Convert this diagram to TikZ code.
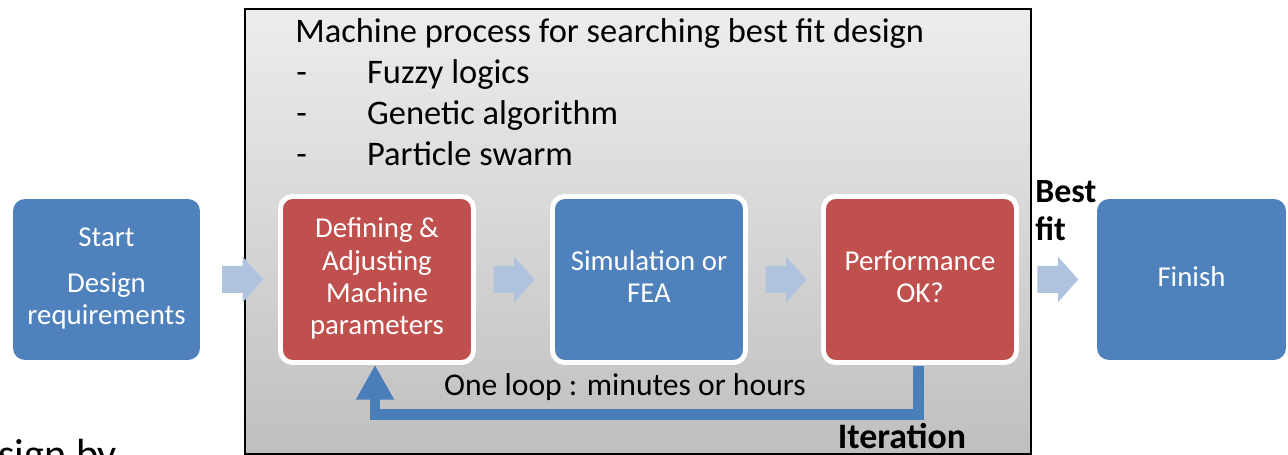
\documentclass[tikz,border=0pt]{standalone}
\usepackage{fontspec}
\setmainfont{Carlito}
\usetikzlibrary{arrows.meta,calc}
\definecolor{boxblue}{HTML}{4F81BD}
\definecolor{boxred}{HTML}{C0504D}
\definecolor{arrowfill}{HTML}{AFC3DF}
\definecolor{loopblue}{HTML}{4A7EBB}
\definecolor{paneltop}{HTML}{EDEDED}
\definecolor{panelbottom}{HTML}{BFBFBF}

\begin{document}
\begin{tikzpicture}[x=0.02cm,y=-0.02cm,
  boxtext/.style={text=white, align=center, text depth=3.5pt,
    font=\fontsize{16.4pt}{18.4pt}\selectfont},
  endbox/.style={boxtext, fill=boxblue, rounded corners=0.24cm,
    minimum width=3.74cm, minimum height=3.22cm, inner sep=0pt},
  stagebox/.style={boxtext, fill=#1, draw=white, line width=2.8pt, rounded corners=0.24cm,
    minimum width=3.86cm, minimum height=3.32cm, inner sep=0pt},
  panel/.style={draw=black, line width=1.1pt, top color=paneltop, bottom color=panelbottom,
    minimum width=15.72cm, minimum height=8.9cm, inner sep=0pt},
  listtext/.style={font=\fontsize{19.6pt}{23pt}\selectfont, inner sep=0pt, anchor=base west},
  boldtext/.style={font=\bfseries\fontsize{#1}{21.5pt}\selectfont, inner sep=0pt},
  loopline/.style={draw=loopblue, line width=6.2pt, line join=miter,
    -{Triangle[width=20.4pt,length=19.8pt]}},
  pics/blockarrow/.style={code={
    \fill[arrowfill] (-20.5,-13.5) -- (0,-13.5) -- (0,-23) -- (20.5,0)
      -- (0,23) -- (0,13.5) -- (-20.5,13.5) -- cycle;}}
]
\useasboundingbox (0,0) rectangle (1288,455);
\clip (0,0) rectangle (1288,455);

% grey panel holding the optimisation loop
\node[panel, anchor=north west] (panel) at (244,8) {};

% heading and list of search methods
\node[listtext] (title) at (295,43) {Machine process for searching best fit design};
\node[listtext] (fuzzy) at (296,84) {\makebox[40.3pt][l]{-}Fuzzy logics};
\node[listtext] (genetic) at (296,125) {\makebox[40.3pt][l]{-}Genetic algorithm};
\node[listtext] (swarm) at (296,166) {\makebox[40.3pt][l]{-}Particle swarm};

% process stages
\node[endbox] (start) at (106.5,279.5) {Start\\[7.7pt]Design\\requirements};
\node[stagebox=boxred] (def) at (377,279.5) {Defining \&\\Adjusting\\Machine\\parameters};
\node[stagebox=boxblue] (sim) at (649,279.5) {Simulation or\\FEA};
\node[stagebox=boxred] (perf) at (920,279.5) {Performance\\OK?};
\node[endbox, minimum width=3.78cm] (finish) at (1191.5,279.5) {Finish};

% block arrows between stages
\pic at ($(start.east)!0.5!(def.west)+(3.5,0)$) {blockarrow};
\pic at ($(def.east)!0.5!(sim.west)+(1,0)$) {blockarrow};
\pic at ($(sim.east)!0.5!(perf.west)+(1.5,0)$) {blockarrow};
\pic at ($(perf.east)!0.5!(finish.west)$) {blockarrow};

\node[boldtext=19.3pt, align=left, anchor=west] (bestfit) at (1035,211) {Best\\fit};

% iteration loop back to the parameter stage
\draw[loopline] ($(perf.south)+(-1.5,1)$) -- ++(0,49) -| ($(def.south)+(-2,0)$);
\node[font=\fontsize{18pt}{20pt}\selectfont, inner sep=0pt] (looplabel) at (625,387) {One loop : minutes or hours};
\node[boldtext=20.4pt] (iter) at (902,436) {Iteration};

% caption text running off the lower edge
\node[font=\fontsize{24pt}{28pt}\selectfont, anchor=base west, inner sep=0pt] (caption) at (-2,469) {sign by};
\end{tikzpicture}
\end{document}
